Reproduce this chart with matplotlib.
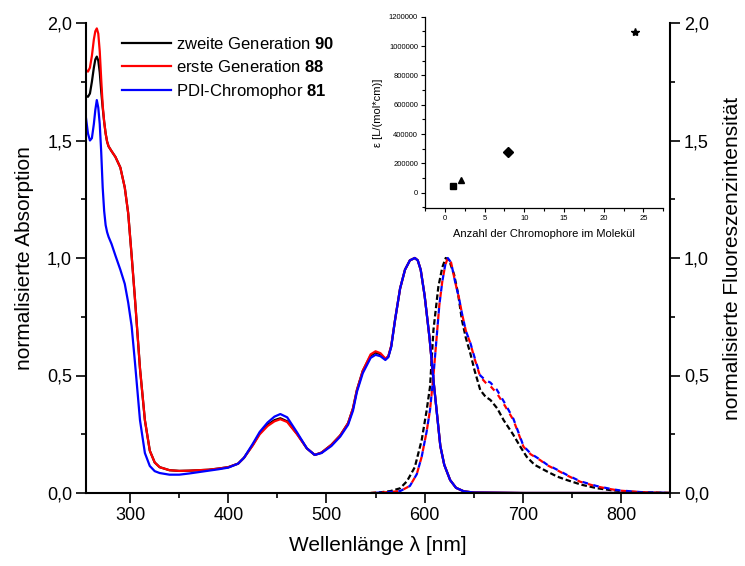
import matplotlib
matplotlib.use("Agg")
import matplotlib.pyplot as plt
from matplotlib.ticker import FixedFormatter

plt.rcParams['font.family'] = ['Liberation Sans', 'DejaVu Sans']
plt.rcParams['mathtext.fontset'] = 'custom'
plt.rcParams['mathtext.rm'] = 'Liberation Sans'
plt.rcParams['mathtext.bf'] = 'Liberation Sans:bold'
plt.rcParams['lines.scale_dashes'] = False

# ---------------- data ----------------
# Absorption (solid), normalised at 590 nm
abs_wl = [255, 257, 259, 261, 263, 264.5, 266, 267.5, 269, 270.5, 272, 273.5, 275, 276.5,
          278, 281, 285, 290, 294.5, 298, 301.5, 305, 310, 315, 320, 325, 330, 340,
          350, 360, 370, 380, 390, 400, 410, 416, 425, 432, 440, 447, 453, 460,
          470, 480, 488, 495, 505, 514, 522, 527, 531, 537, 545, 550, 555, 560,
          563, 566, 570, 575, 580, 585, 590, 593, 596, 600, 605, 609, 612, 616,
          620, 626, 632, 640, 650, 700, 750, 850]
abs_gen2 = [1.69, 1.686, 1.70, 1.75, 1.81, 1.845, 1.857, 1.84, 1.79, 1.71, 1.64, 1.58, 1.53, 1.495,
            1.475, 1.455, 1.43, 1.385, 1.30, 1.19, 1.01, 0.82, 0.53, 0.31, 0.18, 0.13, 0.11, 0.097,
            0.094, 0.095, 0.097, 0.099, 0.104, 0.11, 0.125, 0.15, 0.205, 0.254, 0.29, 0.31, 0.318, 0.305,
            0.252, 0.19, 0.162, 0.172, 0.205, 0.245, 0.297, 0.36, 0.438, 0.52, 0.585, 0.598, 0.59, 0.57,
            0.58, 0.625, 0.74, 0.87, 0.95, 0.99, 1.0, 0.99, 0.95, 0.84, 0.66, 0.48, 0.36, 0.20,
            0.12, 0.055, 0.022, 0.007, 0.002, 0.0, 0.0, 0.0]
abs_gen1 = [1.80, 1.793, 1.81, 1.86, 1.93, 1.965, 1.977, 1.955, 1.88, 1.76, 1.65, 1.58, 1.53, 1.495,
            1.475, 1.455, 1.43, 1.385, 1.30, 1.19, 1.01, 0.82, 0.53, 0.31, 0.18, 0.13, 0.11, 0.097,
            0.094, 0.095, 0.097, 0.099, 0.104, 0.11, 0.125, 0.15, 0.203, 0.25, 0.285, 0.305, 0.314, 0.302,
            0.25, 0.19, 0.162, 0.172, 0.205, 0.245, 0.297, 0.36, 0.438, 0.52, 0.59, 0.603, 0.595, 0.572,
            0.582, 0.627, 0.74, 0.87, 0.95, 0.99, 1.0, 0.99, 0.95, 0.84, 0.66, 0.48, 0.36, 0.20,
            0.12, 0.055, 0.022, 0.007, 0.002, 0.0, 0.0, 0.0]
abs_pdi = [1.595, 1.53, 1.50, 1.51, 1.57, 1.63, 1.672, 1.64, 1.57, 1.45, 1.30, 1.20, 1.14, 1.11,
           1.09, 1.06, 1.01, 0.95, 0.89, 0.81, 0.71, 0.55, 0.31, 0.17, 0.115, 0.093, 0.085, 0.078,
           0.078, 0.083, 0.089, 0.095, 0.101, 0.108, 0.125, 0.15, 0.21, 0.26, 0.30, 0.325, 0.336, 0.322,
           0.258, 0.19, 0.162, 0.17, 0.2, 0.24, 0.29, 0.35, 0.43, 0.51, 0.575, 0.588, 0.582, 0.566,
           0.578, 0.622, 0.74, 0.87, 0.95, 0.99, 1.0, 0.99, 0.95, 0.84, 0.66, 0.48, 0.36, 0.20,
           0.12, 0.055, 0.022, 0.007, 0.002, 0.0, 0.0, 0.0]

# Fluorescence (dashed), normalised
fl_wl_black = [545, 555, 565, 575, 582, 590, 597, 602, 605.5, 609, 614, 618, 621.5, 625, 630,
               634, 638, 642, 646.5, 651, 656.7, 662, 667, 674, 680.5, 690, 697.5, 704, 712,
               725, 735, 745, 760, 776, 790, 803, 820, 850]
fl_gen2 = [0.0, 0.003, 0.008, 0.02, 0.05, 0.11, 0.225, 0.35, 0.452, 0.694, 0.878, 0.96, 1.0, 0.99, 0.93,
           0.85, 0.736, 0.66, 0.595, 0.52, 0.438, 0.41, 0.396, 0.36, 0.31, 0.25, 0.197, 0.154, 0.12,
           0.091, 0.07, 0.055, 0.035, 0.02, 0.012, 0.007, 0.003, 0.0]
fl_wl = [545, 560, 575, 585, 592, 597, 602, 605.5, 609, 612, 615, 618, 621, 623.6, 627, 631,
         635, 638, 642, 646.5, 651, 656.7, 662, 667, 673.5, 682, 690.5, 700.7, 708, 717.7,
         725, 734.6, 745, 758.5, 775, 790, 799, 820, 850]
fl_gen1 = [0.0, 0.003, 0.008, 0.03, 0.08, 0.154, 0.26, 0.353, 0.5, 0.65, 0.80, 0.9, 0.97, 1.0, 0.98, 0.9,
           0.83, 0.765, 0.69, 0.638, 0.57, 0.495, 0.47, 0.455, 0.425, 0.37, 0.31, 0.197, 0.165, 0.14,
           0.118, 0.098, 0.075, 0.048, 0.028, 0.016, 0.01, 0.004, 0.0]
fl_pdi = [0.0, 0.003, 0.008, 0.03, 0.08, 0.154, 0.26, 0.353, 0.5, 0.65, 0.80, 0.9, 0.97, 1.0, 0.98, 0.9,
          0.83, 0.765, 0.69, 0.64, 0.575, 0.5, 0.48, 0.47, 0.44, 0.38, 0.315, 0.2, 0.168, 0.142,
          0.12, 0.1, 0.077, 0.05, 0.03, 0.017, 0.011, 0.004, 0.0]

legend_labels = [r"zweite Generation $\mathbf{90}$",
                 r"erste Generation $\mathbf{88}$",
                 r"PDI-Chromophor $\mathbf{81}$"]
series_colors = ['#000000', '#ff0000', '#0000ff']

x_ticks = [300, 400, 500, 600, 700, 800]
y_ticks = [0.0, 0.5, 1.0, 1.5, 2.0]
y_tick_labels = ['0,0', '0,5', '1,0', '1,5', '2,0']

# inset data
n_chromophores = [1, 2, 8, 24]
epsilon = [46000, 86000, 275000, 1094000]
inset_markers = ['s', '^', 'D', '*']
inset_xticks = [0, 5, 10, 15, 20, 25]
inset_yticks = [0, 200000, 400000, 600000, 800000, 1000000, 1200000]
inset_ytick_labels = ['0', '200000', '400000', '600000', '800000', '1000000', '1200000']

# ---------------- figure ----------------
fig = plt.figure(figsize=(7.45, 5.66), dpi=100)
ax = fig.add_axes([86/745, 73/566, 584/745, 470/566])

# fluorescence (dashed)
ax.plot(fl_wl_black, fl_gen2, color='black', lw=1.6, linestyle=(0, (4, 2)))
ax.plot(fl_wl, fl_gen1, color='red', lw=1.6, linestyle=(0, (4, 4)))
ax.plot(fl_wl, fl_pdi, color='blue', lw=1.6, linestyle=(4, (4, 4)))

# absorption (solid)
for vals, c, lab in zip([abs_gen2, abs_gen1, abs_pdi], series_colors, legend_labels):
    ax.plot(abs_wl, vals, color=c, lw=1.6, label=lab)

ax.set_xticks(x_ticks)
ax.set_xticks(list(range(250, 851, 50)), minor=True)
ax.set_xlim(255, 850)
ax.set_ylim(0, 2.0)
ax.set_yticks(y_ticks)
ax.set_yticklabels(y_tick_labels)
ax.set_yticks([0.25, 0.75, 1.25, 1.75], minor=True)
ax.spines['top'].set_visible(False)
ax.spines['right'].set_visible(False)
for s in ['left', 'bottom']:
    ax.spines[s].set_linewidth(1.5)
ax.tick_params(which='major', direction='out', length=7, width=1.2, labelsize=13, pad=3)
ax.tick_params(which='minor', direction='out', length=3.5, width=1.2)
ax.set_xlabel("Wellenlänge λ [nm]", fontsize=15, labelpad=9)
ax.set_ylabel("normalisierte Absorption", fontsize=15, labelpad=9)

ax2 = ax.twinx()
ax2.set_ylim(0, 2.0)
ax2.set_yticks(y_ticks)
ax2.set_yticklabels(y_tick_labels)
ax2.set_yticks([0.25, 0.75, 1.25, 1.75], minor=True)
ax2.spines['top'].set_visible(False)
ax2.spines['left'].set_visible(False)
ax2.spines['bottom'].set_visible(False)
ax2.spines['right'].set_linewidth(1.5)
ax2.tick_params(which='major', direction='out', length=7, width=1.2, labelsize=13, pad=3)
ax2.tick_params(which='minor', direction='out', length=3.5, width=1.2)
ax2.set_ylabel("normalisierte Fluoreszenzintensität", fontsize=15, labelpad=10)

leg = ax.legend(loc='upper left', bbox_to_anchor=(0.062, 0.972), frameon=False,
                fontsize=12, handlelength=2.9, handletextpad=0.35, labelspacing=0.42,
                borderpad=0, borderaxespad=0)

# ---------------- inset ----------------
axi = fig.add_axes([425/745, (566-208)/566, (663.3-425)/745, (208-16.7)/566])
for xv, yv, m in zip(n_chromophores, epsilon, inset_markers):
    axi.plot([xv], [yv], marker=m, color='black', markersize=5 if m != '*' else 6, linestyle='none')
axi.set_xlim(-2.5, 27.5)
axi.set_ylim(-104000, 1200000)
axi.set_xticks(inset_xticks)
axi.set_xticks([-2.5 + 2.5 * i for i in range(13)], minor=True)
axi.set_yticks(inset_yticks)
axi.yaxis.set_major_formatter(FixedFormatter(inset_ytick_labels))
axi.set_yticks([-100000 + 200000 * i for i in range(7)], minor=True)
axi.spines['top'].set_visible(False)
axi.spines['right'].set_visible(False)
for s in ['left', 'bottom']:
    axi.spines[s].set_linewidth(0.9)
axi.tick_params(which='major', direction='out', length=3, width=0.8, labelsize=5.5, pad=2)
axi.tick_params(which='minor', direction='out', length=2, width=0.8)
axi.set_xlabel("Anzahl der Chromophore im Molekül", fontsize=8, labelpad=5)
axi.set_ylabel("ε [L/(mol*cm)]", fontsize=8, labelpad=4)
axi.patch.set_alpha(0)

fig.savefig("out.png", dpi=100)
